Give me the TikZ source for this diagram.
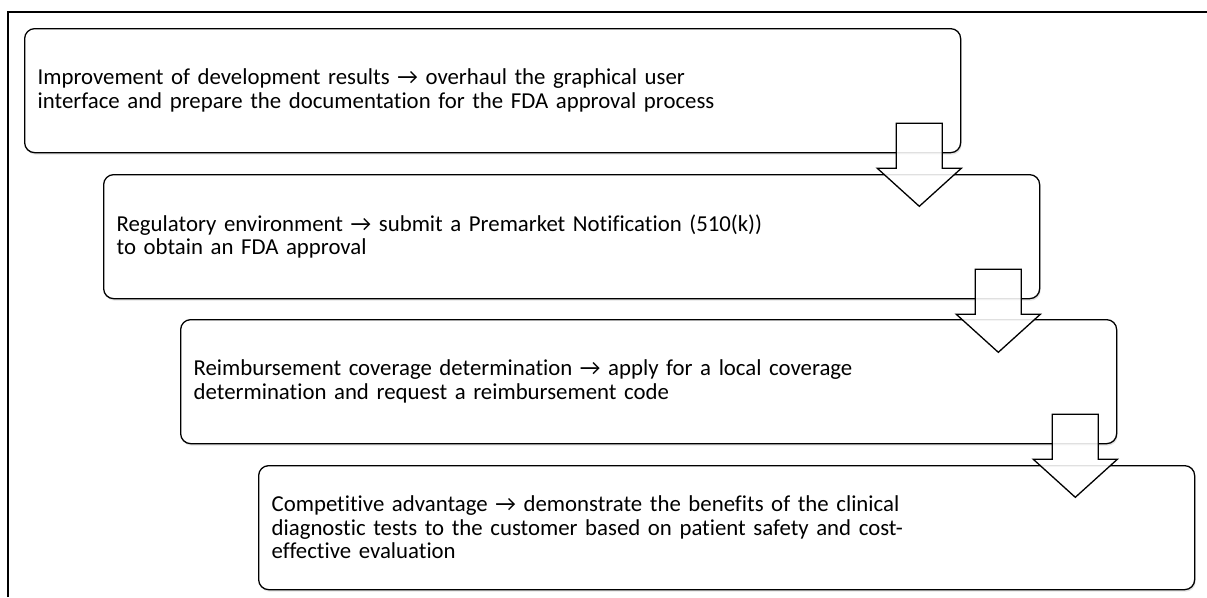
\documentclass[tikz,border=0pt]{standalone}
\usepackage{fontspec}
\setmainfont{Carlito}[Ligatures=NoCommon]
\usetikzlibrary{calc,shadows}
\tikzset{
  x=1pt, y=1pt,
  stagebox/.style={draw=black, line width=1.3pt, rounded corners=10pt, fill=white,
    minimum width=936pt, minimum height=124pt, inner xsep=13pt, inner ysep=0pt,
    text width=910pt, align=left, anchor=north west,
    font=\fontsize{22.8}{23.5}\selectfont,
    drop shadow={opacity=0.22, shadow xshift=1pt, shadow yshift=-2pt}},
  blockarrow/.style={draw=black, line width=1.3pt, line join=miter, fill=white, fill opacity=0.88},
  frameline/.style={draw=black, line width=1.3pt}
}
% downward block arrow whose shaft top centre is at #1
\newcommand\downblock[1]{%
  \path[blockarrow] ($(#1)+(-23,0)$) -- ($(#1)+(-23,-45)$) -- ($(#1)+(-42,-45)$)
    -- ($(#1)+(0,-83)$) -- ($(#1)+(42,-45)$) -- ($(#1)+(23,-45)$) -- ($(#1)+(23,0)$) -- cycle;}
\begin{document}
\begin{tikzpicture}
\useasboundingbox (0,0) rectangle (1207,-597);
\fill[white] (0,0) rectangle (1207,-597);
% outer frame (top and left edges)
\coordinate (fa) at (8,-597);
\coordinate (fb) at (8,-12);
\coordinate (fc) at (1207,-12);
\draw[frameline] (fa) -- (fb) -- (fc);

\node[stagebox] (b1) at (24,-28) {Improvement of development results → overhaul the graphical user\\interface and prepare the documentation for the FDA approval process};
\node[stagebox] (b2) at (103,-174) {Regulatory environment → submit a Premarket Notification (510(k))\\to obtain an FDA approval};
\node[stagebox] (b3) at (180,-319) {Reimbursement coverage determination → apply for a local coverage\\determination and request a reimbursement code};
\node[stagebox] (b4) at (258,-465) {Competitive advantage → demonstrate the benefits of the clinical\\diagnostic tests to the customer based on patient safety and cost-\\effective evaluation};

\coordinate (a1) at ($(b1.south east)+(-42,30)$);
\coordinate (a2) at ($(b2.south east)+(-42,30)$);
\coordinate (a3) at ($(b3.south east)+(-42,30)$);
\downblock{a1}
\downblock{a2}
\downblock{a3}
\end{tikzpicture}
\end{document}
